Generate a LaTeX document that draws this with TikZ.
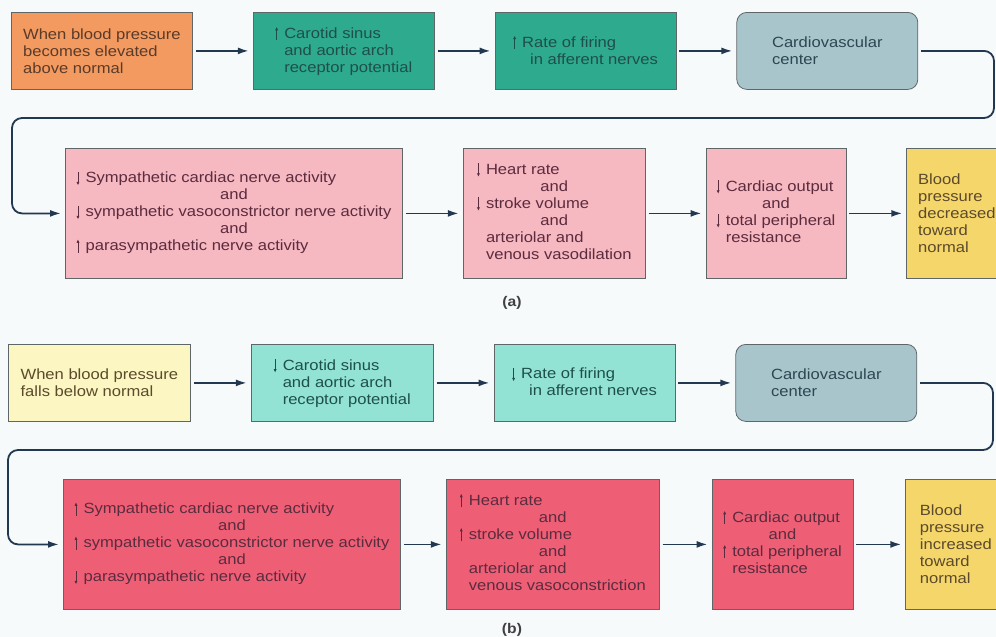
\documentclass[tikz,border=0pt]{standalone}
\usepackage{fontspec}
\setmainfont[FakeStretch=1.12]{Liberation Sans}
\usetikzlibrary{arrows.meta,positioning}
\definecolor{bgc}{HTML}{F7FAFB}
\definecolor{edge}{HTML}{5E6668}
\definecolor{conn}{HTML}{223850}
\definecolor{oran}{HTML}{F29A5F}
\definecolor{teal}{HTML}{2EAA8E}
\definecolor{ltteal}{HTML}{92E3D3}
\definecolor{cvc}{HTML}{A8C5CC}
\definecolor{pink}{HTML}{F6B8C1}
\definecolor{redp}{HTML}{EE5F76}
\definecolor{yel}{HTML}{F5D66A}
\definecolor{ltyel}{HTML}{FBF6C2}
\definecolor{txbrown}{HTML}{5A3B2A}
\definecolor{txteal}{HTML}{1F4F4A}
\definecolor{txcvc}{HTML}{2E4650}
\definecolor{txpink}{HTML}{5B2B3E}
\definecolor{txyel}{HTML}{5B4A2B}
\newcommand{\fs}{\fontsize{14.8}{17}\selectfont}
% small up / down arrows drawn in the current text colour
\newcommand{\ua}{\tikz[baseline=0pt]\draw[draw=.,line width=0.9pt,
  -{Latex[length=3.5pt,width=3.2pt]}] (0pt,-2pt) -- (0pt,11.5pt);\hspace{6pt}}
\newcommand{\da}{\tikz[baseline=0pt]\draw[draw=.,line width=0.9pt,
  -{Latex[length=3.5pt,width=3.2pt]}] (0pt,11pt) -- (0pt,-2.5pt);\hspace{6pt}}
\newcommand{\ind}{\phantom{\ua}}
\newcommand{\AND}{\multicolumn{1}{@{}c@{}}{and}}

\begin{document}
\begin{tikzpicture}[x=1pt,y=-1pt,
  node distance=60pt,
  box/.style={rectangle,draw=edge,line width=0.8pt,inner sep=0pt,align=left,
    minimum height=77pt,minimum width=181pt,font=\fs},
  tall/.style={box,minimum height=130pt},
  cvbox/.style={box,rounded corners=10pt,fill=cvc,text=txcvc},
  arr/.style={draw=conn,line width=1.8pt,-{Latex[length=11pt,width=7pt]},
    shorten <=3pt,shorten >=4pt},
  loop/.style={arr,rounded corners=10pt},
  lbl/.style={font=\fontsize{14}{16}\selectfont\bfseries,text=black!75}]
  \clip (0,0) rectangle (996,637);
  \fill[bgc] (0,0) rectangle (996,637);

  % (a) pressure rises
  \node[box,fill=oran,text=txbrown,anchor=north west] (a1) at (11,12)
    {When blood pressure\\becomes elevated\\above normal};
  \node[box,fill=teal,text=txteal,right=of a1] (a2)
    {\ua Carotid sinus\\\ind and aortic arch\\\ind receptor potential};
  \node[box,fill=teal,text=txteal,right=of a2] (a3)
    {\ua Rate of firing\\\ind\hspace{8pt}in afferent nerves};
  \node[cvbox,right=of a3] (a4) {Cardiovascular\\center};
  \node[tall,fill=pink,text=txpink,minimum width=337pt,anchor=north west] (a5) at (65,148)
    {\begin{tabular}{@{}l@{}}
      \da Sympathetic cardiac nerve activity\\ \AND\\
      \da sympathetic vasoconstrictor nerve activity\\ \AND\\
      \ua parasympathetic nerve activity
    \end{tabular}};
  \node[tall,fill=pink,text=txpink,minimum width=182pt,right=of a5] (a6)
    {\begin{tabular}{@{}l@{}}
      \da Heart rate\\ \AND\\ \da stroke volume\\ \AND\\
      \ind arteriolar and\\ \ind venous vasodilation
    \end{tabular}};
  \node[tall,fill=pink,text=txpink,minimum width=140pt,right=of a6] (a7)
    {\begin{tabular}{@{}l@{}}
      \da Cardiac output\\ \AND\\ \da total peripheral\\ \ind resistance
    \end{tabular}};
  \node[tall,fill=yel,text=txyel,minimum width=100pt,right=of a7] (a8)
    {Blood\\pressure\\decreased\\toward\\normal};
  \node[lbl] (la) at (512,303) {(a)};

  \coordinate (aR) at (994,118);
  \coordinate (aL) at (12,118);
  \draw[arr] (a1) -- (a2);
  \draw[arr] (a2) -- (a3);
  \draw[arr] (a3) -- (a4);
  \draw[loop] (a4.east) -| (aR) -- (aL) |- (a5.west);
  \draw[arr] (a5) -- (a6);
  \draw[arr] (a6) -- (a7);
  \draw[arr] (a7) -- (a8);

  % (b) pressure falls
  \node[box,fill=ltyel,text=txyel,minimum width=182pt,anchor=north west] (b1) at (8,344)
    {When blood pressure\\falls below normal};
  \node[box,fill=ltteal,text=txteal,minimum width=182pt,right=of b1] (b2)
    {\da Carotid sinus\\\ind and aortic arch\\\ind receptor potential};
  \node[box,fill=ltteal,text=txteal,right=of b2] (b3)
    {\da Rate of firing\\\ind\hspace{8pt}in afferent nerves};
  \node[cvbox,right=of b3] (b4) {Cardiovascular\\center};
  \node[tall,fill=redp,text=txpink,minimum width=337pt,anchor=north west] (b5) at (63,479)
    {\begin{tabular}{@{}l@{}}
      \ua Sympathetic cardiac nerve activity\\ \AND\\
      \ua sympathetic vasoconstrictor nerve activity\\ \AND\\
      \da parasympathetic nerve activity
    \end{tabular}};
  \node[tall,fill=redp,text=txpink,minimum width=213pt,right=45pt of b5] (b6)
    {\begin{tabular}{@{}l@{}}
      \ua Heart rate\\ \AND\\ \ua stroke volume\\ \AND\\
      \ind arteriolar and\\ \ind venous vasoconstriction
    \end{tabular}};
  \node[tall,fill=redp,text=txpink,minimum width=141pt,right=52pt of b6] (b7)
    {\begin{tabular}{@{}l@{}}
      \ua Cardiac output\\ \AND\\ \ua total peripheral\\ \ind resistance
    \end{tabular}};
  \node[tall,fill=yel,text=txyel,minimum width=100pt,right=52pt of b7] (b8)
    {Blood\\pressure\\increased\\toward\\normal};
  \node[lbl] (lb) at (512,630) {(b)};

  \coordinate (bR) at (993,450);
  \coordinate (bL) at (8,450);
  \draw[arr] (b1) -- (b2);
  \draw[arr] (b2) -- (b3);
  \draw[arr] (b3) -- (b4);
  \draw[loop] (b4.east) -| (bR) -- (bL) |- (b5.west);
  \draw[arr] (b5) -- (b6);
  \draw[arr] (b6) -- (b7);
  \draw[arr] (b7) -- (b8);
\end{tikzpicture}
\end{document}
